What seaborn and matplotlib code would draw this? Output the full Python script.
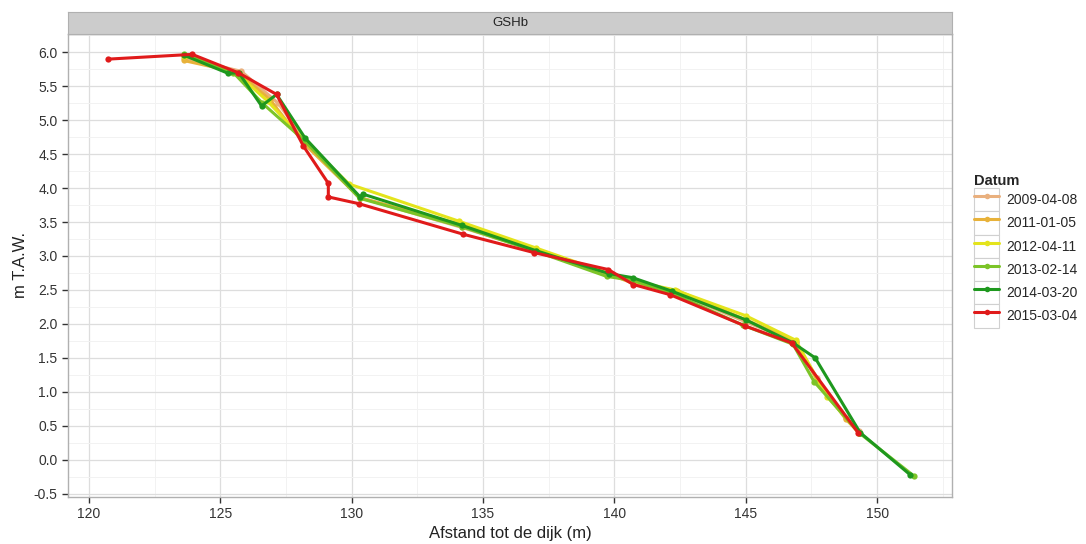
import numpy as np
import pandas as pd
import matplotlib
matplotlib.use("Agg")
import matplotlib.pyplot as plt
import seaborn as sns
from matplotlib.patches import Rectangle
from matplotlib.lines import Line2D
from matplotlib.legend_handler import HandlerTuple
from matplotlib.ticker import MultipleLocator

DATES = ["2009-04-08", "2011-01-05", "2012-04-11", "2013-02-14", "2014-03-20", "2015-03-04"]
COLORS = ["#E9B07E", "#E8B23A", "#E4E41C", "#7CC428", "#1E981E", "#E01A1A"]

x_2009 = [123.6, 125.8, 127.2, 128.2, 130.3, 134.2, 137.0, 139.8, 140.7, 142.3, 145.0, 146.9, 147.7, 148.8, 149.3]
y_2009 = [5.92, 5.72, 5.25, 4.72, 3.86, 3.42, 3.08, 2.74, 2.62, 2.47, 2.03, 1.73, 1.20, 0.62, 0.42]

x_2011 = [123.6, 125.7, 126.9, 128.2, 130.3, 134.2, 137.0, 139.8, 140.7, 142.4, 145.0, 146.9, 147.7, 148.8, 149.3]
y_2011 = [5.88, 5.70, 5.30, 4.65, 3.86, 3.46, 3.08, 2.73, 2.60, 2.49, 2.06, 1.74, 1.18, 0.60, 0.40]

x_2012 = [123.6, 125.6, 126.8, 128.2, 129.9, 134.1, 137.0, 139.8, 140.6, 142.3, 145.0, 146.9, 148.1, 149.3]
y_2012 = [5.95, 5.70, 5.28, 4.70, 4.06, 3.51, 3.12, 2.74, 2.64, 2.50, 2.12, 1.76, 0.93, 0.40]

x_2013 = [123.6, 125.5, 126.6, 128.2, 130.3, 134.2, 137.0, 139.7, 140.7, 142.2, 144.9, 146.8, 147.6, 149.3, 151.4]
y_2013 = [5.98, 5.70, 5.25, 4.70, 3.85, 3.43, 3.07, 2.70, 2.64, 2.45, 1.98, 1.70, 1.15, 0.40, -0.24]

x_2014 = [123.6, 125.3, 125.7, 126.57, 127.14, 128.22, 130.32, 130.44, 134.2, 137.0, 139.8, 140.7, 142.2, 145.0, 146.8, 147.64, 149.35, 151.25]
y_2014 = [5.96, 5.69, 5.70, 5.21, 5.38, 4.74, 3.87, 3.91, 3.45, 3.08, 2.74, 2.68, 2.48, 2.06, 1.72, 1.50, 0.40, -0.22]

x_2015 = [120.73, 123.93, 125.68, 127.14, 128.16, 129.11, 129.11, 130.28, 134.25, 136.94, 139.77, 140.72, 142.12, 144.97, 146.75, 149.29]
y_2015 = [5.90, 5.97, 5.70, 5.38, 4.62, 4.07, 3.87, 3.77, 3.32, 3.05, 2.80, 2.58, 2.43, 1.97, 1.72, 0.39]

series = [(x_2009, y_2009), (x_2011, y_2011), (x_2012, y_2012),
          (x_2013, y_2013), (x_2014, y_2014), (x_2015, y_2015)]

frames = []
for d, (xs, ys) in zip(DATES, series):
    frames.append(pd.DataFrame({"afstand": xs, "hoogte": ys, "Datum": d}))
df = pd.concat(frames, ignore_index=True)

sns.set_style("white")
plt.rcParams["font.family"] = ["Liberation Sans", "DejaVu Sans"]

fig = plt.figure(figsize=(10.86, 5.44), dpi=100)
ax = fig.add_axes([0.0626, 0.0864, 0.8140, 0.8511])

sns.lineplot(data=df, x="afstand", y="hoogte", hue="Datum", hue_order=DATES,
             palette=COLORS, sort=False, estimator=None, units="Datum",
             marker="o", markersize=4.5, markeredgewidth=0, linewidth=2.2,
             legend=False, ax=ax)

ax.set_xlim(119.2, 152.85)
ax.set_ylim(-0.55, 6.27)
ax.xaxis.set_major_locator(MultipleLocator(5))
ax.xaxis.set_minor_locator(MultipleLocator(2.5))
ax.yaxis.set_major_locator(MultipleLocator(0.5))
ax.yaxis.set_minor_locator(MultipleLocator(0.25))
ax.yaxis.set_major_formatter(matplotlib.ticker.FormatStrFormatter("%.1f"))
ax.grid(which="major", color="#DDDDDD", linewidth=0.9)
ax.grid(which="minor", color="#F2F2F2", linewidth=0.7)
ax.set_axisbelow(True)
for sp in ax.spines.values():
    sp.set_color("#B0B0B0")
    sp.set_linewidth(1.0)
ax.tick_params(axis="both", which="major", length=4, width=1, color="#333333",
               labelsize=10, labelcolor="#333333", direction="out", bottom=True, left=True)
ax.tick_params(axis="both", which="minor", length=0)
ax.set_xlabel("Afstand tot de dijk (m)", fontsize=12, color="#222222", labelpad=3)
ax.set_ylabel("m T.A.W.", fontsize=12, color="#222222", labelpad=4)

# facet strip
strip = fig.add_axes([0.0626, 0.9375, 0.8140, 0.041])
strip.set_facecolor("#CCCCCC")
strip.set_xticks([])
strip.set_yticks([])
for sp in strip.spines.values():
    sp.set_color("#B0B0B0")
strip.text(0.5, 0.5, "GSHb", ha="center", va="center", fontsize=9.5, color="#222222",
           transform=strip.transAxes)

# legend with ggplot-like key boxes
handles = []
for c in COLORS:
    box = Rectangle((0, 0), 1, 1, facecolor="white", edgecolor="#D0D0D0", linewidth=0.8)
    ln = Line2D([], [], color=c, linewidth=2.2, marker="o", markersize=4, markeredgewidth=0)
    handles.append((box, ln))
leg = fig.legend(handles, DATES, handler_map={tuple: HandlerTuple(ndivide=1, pad=0)},
                 loc="upper left", bbox_to_anchor=(0.897, 0.68), frameon=False,
                 title="Datum", fontsize=10, handlelength=1.8, handleheight=2.2,
                 labelspacing=0.0, handletextpad=0.5, borderaxespad=0, borderpad=0)
leg.get_title().set_fontweight("bold")
leg.get_title().set_fontsize(10.5)
leg._legend_box.align = "left"

fig.savefig("out.png", dpi=100)
